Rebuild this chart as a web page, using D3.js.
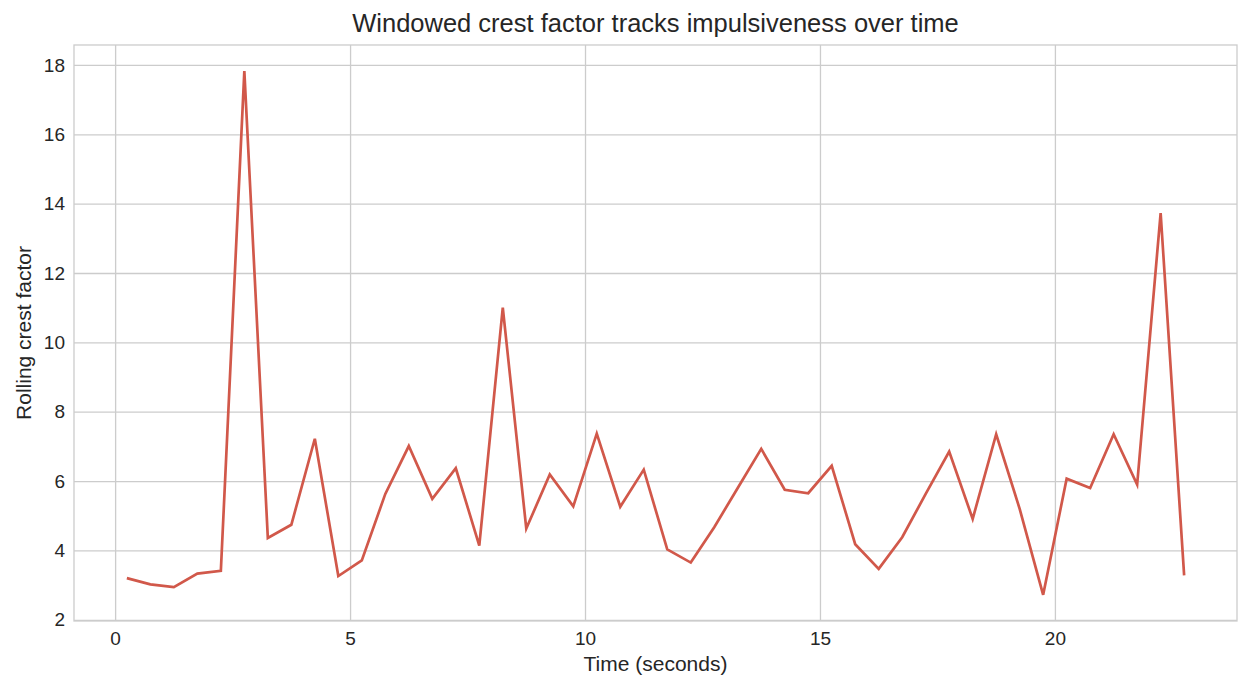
<!DOCTYPE html>
<html>
<head>
<meta charset="utf-8">
<script src="https://cdn.jsdelivr.net/npm/d3@7"></script>
<style>
  body { margin: 0; background: #fff; }
  text { font-family: "Liberation Sans", Arial, sans-serif; fill: #262626; }
</style>
</head>
<body>
<div id="chart"></div>
<script>
const width = 1251;
const height = 692;
const margin = { top: 45, right: 14, bottom: 71, left: 74 };

// window centres (seconds) and rolling crest factor
const times = [
  0.25, 0.75, 1.25, 1.75, 2.25, 2.75, 3.25, 3.75, 4.25, 4.75,
  5.25, 5.75, 6.25, 6.75, 7.25, 7.75, 8.25, 8.75, 9.25, 9.75,
  10.25, 10.75, 11.25, 11.75, 12.25, 12.75, 13.25, 13.75, 14.25, 14.75,
  15.25, 15.75, 16.25, 16.75, 17.25, 17.75, 18.25, 18.75, 19.25, 19.75,
  20.25, 20.75, 21.25, 21.75, 22.25, 22.75
];
const crest = [
  3.20, 3.02, 2.94, 3.33, 3.41, 17.82, 4.36, 4.74, 7.22, 3.26,
  3.71, 5.63, 7.01, 5.49, 6.37, 4.14, 11.00, 4.63, 6.19, 5.27,
  7.37, 5.26, 6.33, 4.03, 3.65, 4.67, 5.80, 6.93, 5.75, 5.65,
  6.44, 4.18, 3.47, 4.38, 5.63, 6.85, 4.91, 7.35, 5.20, 2.72,
  6.07, 5.80, 7.35, 5.90, 13.73, 3.28
];
const xTicks = [0, 5, 10, 15, 20];
const yTicks = [2, 4, 6, 8, 10, 12, 14, 16, 18];

const data = times.map((t, i) => ({ t: t, v: crest[i] }));

// matplotlib-like 5% padding around the data extent
function padded(ext) {
  const p = (ext[1] - ext[0]) * 0.05;
  return [ext[0] - p, ext[1] + p];
}

const x = d3.scaleLinear()
    .domain(padded(d3.extent(times)))
    .range([margin.left, width - margin.right]);

const y = d3.scaleLinear()
    .domain(padded(d3.extent(crest)))
    .range([height - margin.bottom, margin.top]);

const svg = d3.select("#chart")
    .append("svg")
    .attr("width", width)
    .attr("height", height);

// grid
svg.append("g")
    .attr("transform", `translate(0,${height - margin.bottom})`)
    .call(d3.axisBottom(x).tickValues(xTicks).tickSize(-(height - margin.top - margin.bottom)).tickFormat(""))
    .call(g => g.select(".domain").remove())
    .call(g => g.selectAll("line").attr("stroke", "#cccccc").attr("stroke-width", 1.3));

svg.append("g")
    .attr("transform", `translate(${margin.left},0)`)
    .call(d3.axisLeft(y).tickValues(yTicks).tickSize(-(width - margin.left - margin.right)).tickFormat(""))
    .call(g => g.select(".domain").remove())
    .call(g => g.selectAll("line").attr("stroke", "#cccccc").attr("stroke-width", 1.3));

// frame
svg.append("rect")
    .attr("x", margin.left)
    .attr("y", margin.top)
    .attr("width", width - margin.left - margin.right)
    .attr("height", height - margin.top - margin.bottom)
    .attr("fill", "none")
    .attr("stroke", "#cccccc")
    .attr("stroke-width", 1.3);

// tick labels
svg.append("g")
    .attr("transform", `translate(0,${height - margin.bottom})`)
    .call(d3.axisBottom(x).tickValues(xTicks).tickSize(0).tickPadding(0))
    .call(g => g.select(".domain").remove())
    .call(g => g.selectAll("text")
        .attr("y", 24).attr("dy", null)
        .attr("font-size", "19px").attr("fill", "#262626"));

svg.append("g")
    .attr("transform", `translate(${margin.left},0)`)
    .call(d3.axisLeft(y).tickValues(yTicks).tickSize(0).tickPadding(9))
    .call(g => g.select(".domain").remove())
    .call(g => g.selectAll("text")
        .attr("font-size", "19px").attr("fill", "#262626"));

// the series
const line = d3.line()
    .x(d => x(d.t))
    .y(d => y(d.v));

svg.append("path")
    .datum(data)
    .attr("d", line)
    .attr("fill", "none")
    .attr("stroke", "#d1584a")
    .attr("stroke-width", 2.7)
    .attr("stroke-linejoin", "miter");

// labels
svg.append("text")
    .attr("x", (margin.left + width - margin.right) / 2)
    .attr("y", 32)
    .attr("text-anchor", "middle")
    .attr("font-size", "25.5px")
    .text("Windowed crest factor tracks impulsiveness over time");

svg.append("text")
    .attr("x", (margin.left + width - margin.right) / 2)
    .attr("y", 671)
    .attr("text-anchor", "middle")
    .attr("font-size", "21px")
    .text("Time (seconds)");

svg.append("text")
    .attr("transform", `translate(31,${(margin.top + height - margin.bottom) / 2}) rotate(-90)`)
    .attr("text-anchor", "middle")
    .attr("font-size", "21px")
    .text("Rolling crest factor");
</script>
</body>
</html>
